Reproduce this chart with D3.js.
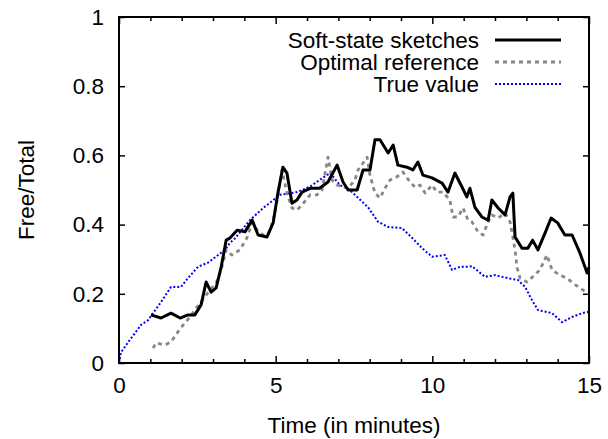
<!DOCTYPE html>
<html>
<head>
<meta charset="utf-8">
<script src="https://cdn.jsdelivr.net/npm/d3@7"></script>
<style>
  body { margin: 0; background: #fff; }
  text { font-family: "Liberation Sans", Arial, sans-serif; }
</style>
</head>
<body>
<div id="chart"></div>
<script>
// series: [minutes, Free/Total]
var trueValue = [
  [0.0, 0.0], [0.06, 0.03], [0.29, 0.06], [0.54, 0.09], [0.7, 0.11], [0.93, 0.124],
  [1.02, 0.136], [1.34, 0.176], [1.66, 0.22], [1.98, 0.22], [2.2, 0.245], [2.52, 0.278],
  [2.84, 0.29], [3.06, 0.305], [3.38, 0.327], [3.54, 0.347], [3.7, 0.36], [4.18, 0.413],
  [4.6, 0.448], [5.14, 0.486], [5.68, 0.494], [6.1, 0.51], [6.5, 0.535], [6.74, 0.549],
  [7.05, 0.514], [7.3, 0.505], [7.53, 0.486], [7.95, 0.45], [8.27, 0.408], [8.59, 0.393],
  [9.03, 0.39], [9.35, 0.362], [9.67, 0.332], [9.99, 0.307], [10.4, 0.312], [10.63, 0.269],
  [10.88, 0.278], [11.14, 0.278], [11.26, 0.28], [11.68, 0.249], [12.0, 0.254], [12.42, 0.245],
  [12.73, 0.24], [12.96, 0.22], [13.18, 0.182], [13.37, 0.153], [13.82, 0.144], [14.14, 0.118],
  [14.46, 0.133], [14.78, 0.144], [15.0, 0.148]
];

var softState = [
  [1.02, 0.139], [1.34, 0.13], [1.66, 0.144], [1.95, 0.13], [2.2, 0.139], [2.42, 0.139],
  [2.62, 0.168], [2.78, 0.234], [2.94, 0.205], [3.1, 0.217], [3.26, 0.277], [3.42, 0.355],
  [3.54, 0.361], [3.77, 0.384], [4.02, 0.379], [4.25, 0.413], [4.44, 0.37], [4.72, 0.364],
  [4.92, 0.405], [5.07, 0.491], [5.23, 0.566], [5.36, 0.549], [5.52, 0.462], [5.68, 0.471],
  [5.84, 0.494], [6.1, 0.505], [6.4, 0.505], [6.67, 0.523], [6.96, 0.572], [7.15, 0.523],
  [7.31, 0.5], [7.6, 0.5], [7.79, 0.558], [8.01, 0.558], [8.17, 0.645], [8.33, 0.645],
  [8.59, 0.607], [8.75, 0.63], [8.9, 0.572], [9.19, 0.566], [9.38, 0.558], [9.54, 0.581],
  [9.7, 0.543], [9.99, 0.535], [10.31, 0.52], [10.5, 0.494], [10.72, 0.549], [10.95, 0.508],
  [11.1, 0.48], [11.2, 0.505], [11.36, 0.45], [11.58, 0.422], [11.78, 0.413], [11.9, 0.471],
  [12.1, 0.448], [12.32, 0.428], [12.48, 0.48], [12.57, 0.491], [12.64, 0.364], [12.86, 0.332],
  [13.05, 0.332], [13.2, 0.355], [13.37, 0.327], [13.6, 0.376], [13.79, 0.419], [14.0, 0.405],
  [14.23, 0.37], [14.46, 0.37], [14.71, 0.318], [14.94, 0.26], [15.0, 0.277]
];

var optimalRef = [
  [1.09, 0.043], [1.18, 0.058], [1.47, 0.052], [1.66, 0.061], [1.88, 0.09], [2.1, 0.116],
  [2.27, 0.133], [2.46, 0.159], [2.62, 0.176], [2.9, 0.211], [3.1, 0.231], [3.26, 0.269],
  [3.42, 0.327], [3.6, 0.312], [3.86, 0.327], [4.08, 0.361], [4.25, 0.405], [4.41, 0.384],
  [4.6, 0.37], [4.76, 0.37], [4.92, 0.413], [5.07, 0.48], [5.2, 0.558], [5.36, 0.491],
  [5.52, 0.448], [5.68, 0.442], [5.84, 0.457], [6.1, 0.486], [6.32, 0.486], [6.48, 0.5],
  [6.67, 0.595], [6.8, 0.529], [6.96, 0.514], [7.15, 0.51], [7.31, 0.505], [7.53, 0.529],
  [7.63, 0.558], [7.79, 0.578], [7.92, 0.595], [8.01, 0.543], [8.17, 0.491], [8.33, 0.477],
  [8.49, 0.505], [8.65, 0.529], [8.87, 0.538], [9.06, 0.552], [9.29, 0.523], [9.45, 0.508],
  [9.61, 0.514], [9.77, 0.491], [9.99, 0.514], [10.15, 0.494], [10.34, 0.494], [10.56, 0.471],
  [10.66, 0.422], [10.82, 0.422], [10.98, 0.448], [11.14, 0.413], [11.26, 0.408], [11.46, 0.379],
  [11.62, 0.37], [11.74, 0.399], [11.9, 0.428], [12.1, 0.419], [12.32, 0.433], [12.48, 0.408],
  [12.57, 0.364], [12.64, 0.327], [12.7, 0.277], [12.8, 0.245], [13.02, 0.234], [13.2, 0.249],
  [13.43, 0.269], [13.66, 0.312], [13.82, 0.269], [14.07, 0.254], [14.3, 0.245], [14.49, 0.231],
  [14.71, 0.217], [14.94, 0.202], [15.0, 0.2]
];

var xMajor = [0, 5, 10, 15];
var xMinor = [1, 2, 3, 4, 6, 7, 8, 9, 11, 12, 13, 14];
var yTicks = [0, 0.2, 0.4, 0.6, 0.8, 1];
var seriesNames = ["Soft-state sketches", "Optimal reference", "True value"];

var w = 608, h = 439;
var margin = { top: 17, right: 19, bottom: 76, left: 119 };
var iw = w - margin.left - margin.right;
var ih = h - margin.top - margin.bottom;
var fontSize = "22.5px";

var svg = d3.select("#chart").append("svg").attr("width", w).attr("height", h);
var g = svg.append("g").attr("transform", "translate(" + margin.left + "," + margin.top + ")");

var x = d3.scaleLinear().domain([0, 15]).range([0, iw]);
var y = d3.scaleLinear().domain([0, 1]).range([ih, 0]);

function styleAxis(sel) {
  sel.select(".domain").remove();
  sel.selectAll("line").attr("stroke", "#000").attr("stroke-width", 1.5);
  sel.selectAll("text").attr("font-size", fontSize).attr("fill", "#000");
}

// x axis, bottom
g.append("g").attr("transform", "translate(0," + ih + ")")
  .call(d3.axisBottom(x).tickValues(xMajor).tickFormat(d3.format("d")).tickSizeInner(-7).tickPadding(14))
  .call(styleAxis);
g.append("g").attr("transform", "translate(0," + ih + ")")
  .call(d3.axisBottom(x).tickValues(xMinor).tickFormat("").tickSizeInner(-4))
  .call(styleAxis);
// x axis, top mirror
g.append("g")
  .call(d3.axisTop(x).tickValues(xMajor).tickFormat("").tickSizeInner(-7))
  .call(styleAxis);
g.append("g")
  .call(d3.axisTop(x).tickValues(xMinor).tickFormat("").tickSizeInner(-4))
  .call(styleAxis);
// y axis
g.append("g")
  .call(d3.axisLeft(y).tickValues(yTicks).tickFormat(function(d) { return d3.format("")(+d.toFixed(1)); })
    .tickSizeInner(-6).tickPadding(15))
  .call(styleAxis);
g.append("g").attr("transform", "translate(" + iw + ",0)")
  .call(d3.axisRight(y).tickValues(yTicks).tickFormat("").tickSizeInner(-6))
  .call(styleAxis);

var line = d3.line().x(function(d) { return x(d[0]); }).y(function(d) { return y(d[1]); });

var styles = [
  { data: softState, color: "#000", width: 3, dash: null },
  { data: optimalRef, color: "#888", width: 2.8, dash: "4,4" },
  { data: trueValue, color: "#0000ff", width: 2, dash: "2,2" }
];

// draw order: true value, optimal, soft-state on top
[2, 1, 0].forEach(function(i) {
  var s = styles[i];
  g.append("path")
    .datum(s.data)
    .attr("fill", "none")
    .attr("stroke", s.color)
    .attr("stroke-width", s.width)
    .attr("stroke-dasharray", s.dash)
    .attr("stroke-linejoin", "round")
    .attr("d", line);
});

// frame
g.append("rect").attr("width", iw).attr("height", ih)
  .attr("fill", "none").attr("stroke", "#000").attr("stroke-width", 2);

// legend
var legend = g.append("g").attr("transform", "translate(" + (479 - margin.left) + "," + (40 - margin.top) + ")");
seriesNames.forEach(function(name, i) {
  var row = legend.append("g").attr("transform", "translate(0," + (i * 22) + ")");
  row.append("text").attr("x", 0).attr("y", 8).attr("text-anchor", "end")
    .attr("font-size", fontSize).text(name);
  row.append("line").attr("x1", 16).attr("x2", 82).attr("y1", 0).attr("y2", 0)
    .attr("stroke", styles[i].color).attr("stroke-width", styles[i].width)
    .attr("stroke-dasharray", styles[i].dash);
});

// axis titles
svg.append("text").attr("x", margin.left + iw / 2).attr("y", 433)
  .attr("text-anchor", "middle").attr("font-size", fontSize).text("Time (in minutes)");
svg.append("text").attr("transform", "translate(34," + (margin.top + ih / 2) + ") rotate(-90)")
  .attr("text-anchor", "middle").attr("font-size", fontSize).text("Free/Total");
</script>
</body>
</html>
